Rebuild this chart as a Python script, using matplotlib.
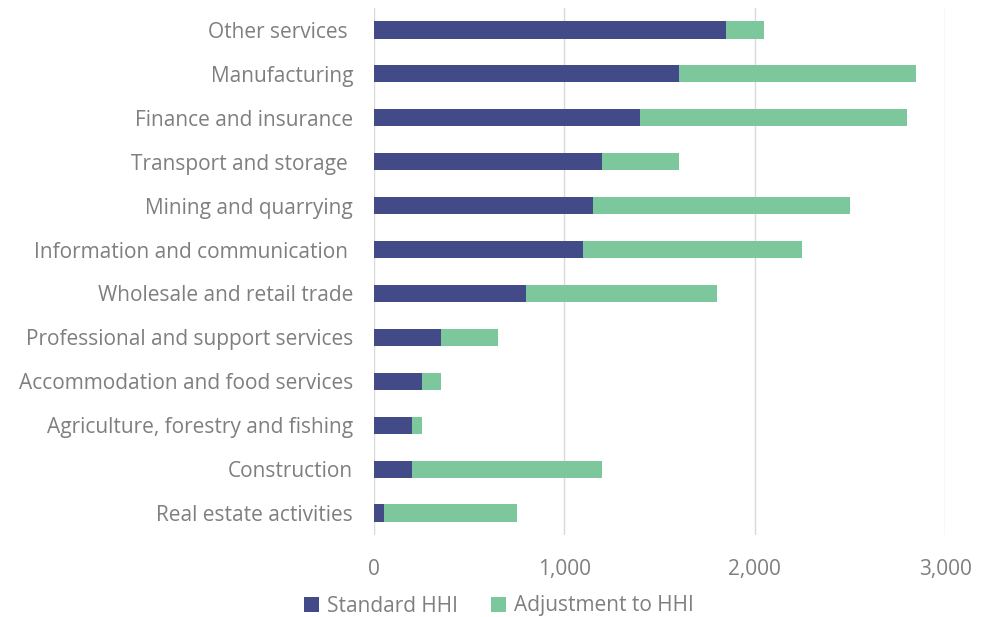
import matplotlib.pyplot as plt
from matplotlib.ticker import FuncFormatter

# data (top to bottom as shown)
sectors = [
    "Other services ",
    "Manufacturing",
    "Finance and insurance",
    "Transport and storage ",
    "Mining and quarrying",
    "Information and communication ",
    "Wholesale and retail trade",
    "Professional and support services",
    "Accommodation and food services",
    "Agriculture, forestry and fishing",
    "Construction",
    "Real estate activities",
]
standard_hhi = [1850, 1600, 1400, 1200, 1150, 1100, 800, 350, 250, 200, 200, 50]
adjustment_hhi = [200, 1250, 1400, 400, 1350, 1150, 1000, 300, 100, 50, 1000, 700]
x_ticks = [0, 1000, 2000, 3000]

navy = "#434a88"
green = "#7cc89c"
grey = "#7f7f7f"

plt.rcParams['font.family'] = ['Open Sans', 'DejaVu Sans']

fig = plt.figure(figsize=(9.86, 6.17), dpi=100)
ax = fig.add_axes([374 / 986, 82 / 617, (945 - 374) / 986, 527 / 617])

y = list(range(len(sectors)))
ax.barh(y, standard_hhi, height=0.39, color=navy, label="Standard HHI", zorder=3)
ax.barh(y, adjustment_hhi, left=standard_hhi, height=0.39, color=green,
        label="Adjustment to HHI", zorder=3)

ax.set_ylim(len(sectors) - 0.5, -0.5)
ax.set_xlim(0, 3000)
ax.set_yticks(y)
ax.set_yticklabels(sectors, fontsize=15, color=grey)
ax.set_xticks(x_ticks)
ax.xaxis.set_major_formatter(FuncFormatter(lambda v, p: f"{int(v):,}"))
ax.tick_params(axis='x', labelsize=15, labelcolor=grey, length=0, pad=17)
ax.tick_params(axis='y', length=0, pad=15)

ax.grid(axis='x', color="#d9d9d9", linewidth=1, zorder=0)
for s in ax.spines.values():
    s.set_visible(False)

fig.legend(loc='center', bbox_to_anchor=(499 / 986, 1 - 606 / 617), ncol=2,
           frameon=False, fontsize=15, labelcolor=grey, handlelength=0.7,
           handleheight=0.7, columnspacing=1.6, handletextpad=0.4)

fig.savefig("out.png", dpi=100)
